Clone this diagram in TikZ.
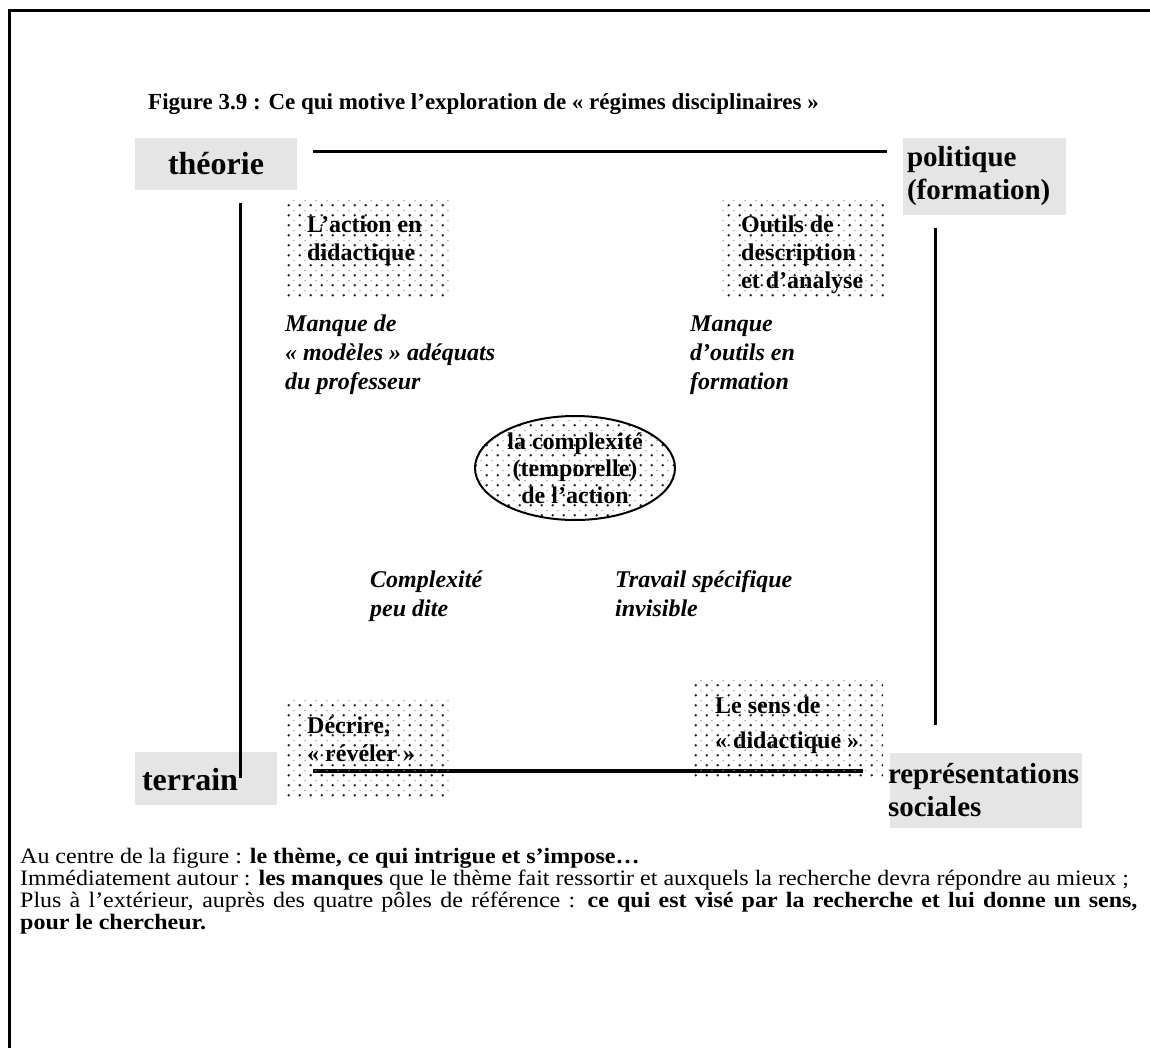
\documentclass[tikz,border=0pt]{standalone}
\usepackage{fontspec}
\setmainfont{Liberation Serif}
\usetikzlibrary{patterns.meta,shapes.geometric}

\tikzdeclarepattern{
  name=dotgrid,
  type=colored,
  bottom left={(0pt,0pt)},
  top right={(11pt,10pt)},
  tile size={(11pt,10pt)},
  code={
    \fill[black!85] (3pt,3pt) circle (1.4pt);
    \fill[black!40] (8pt,7.5pt) rectangle (9.4pt,8.5pt);
  }
}

\newcommand\myfs[2]{\fontsize{#1}{#2}\selectfont}
\newcommand\topline{\rule{0pt}{18pt}}
\newcommand\wide[1]{\scalebox{1.09}[1]{#1}}

\tikzset{
  pole/.style={fill=black!10, inner sep=0pt, font=\bfseries\myfs{29}{33}},
  dotbox/.style={pattern=dotgrid, inner sep=0pt, anchor=north west},
  boxtext/.style={anchor=north west, inner sep=0pt, align=left, font=\bfseries\myfs{24}{28}},
  lack/.style={anchor=north west, inner sep=0pt, align=left, font=\bfseries\itshape\myfs{24}{29}},
  axis/.style={line width=3pt},
  body/.style={anchor=base west, inner sep=0pt, font=\myfs{22}{22}}
}

\begin{document}
\begin{tikzpicture}[x=1pt,y=-1pt]
\useasboundingbox (0,0) rectangle (1150,1048);
\draw[line width=3pt] (9,1048) -- (9,11) -- (1150,11);

% title
\node[anchor=base west, inner sep=0pt, font=\bfseries\myfs{23}{27}] (title) at (148,110)
  {Figure 3.9 : Ce qui motive l’exploration de «~régimes disciplinaires~»};

% poles
\node[pole, font=\bfseries\myfs{32}{36}, minimum width=162pt, minimum height=52pt] (theorie) at (216,164) {théorie};
\node[pole, minimum width=163pt, minimum height=77pt, align=left, text width=155pt] (politique) at (984.5,176.5)
  {politique\\(formation)};
\node[pole, minimum width=142pt, minimum height=53pt] (terrainbg) at (206,778.5) {};
\node[pole, fill=none, font=\bfseries\myfs{32}{36}] (terrain) at (190,780) {terrain};
\node[pole, minimum width=192pt, minimum height=75pt, align=left, text width=190pt, inner xsep=0pt] (repr) at (986,790)
  {\hspace*{-3pt}représentations\\\hspace*{-3pt}sociales};

% axes
\coordinate (t1) at (313,152); \coordinate (t2) at (887,152);
\coordinate (l1) at (240,203); \coordinate (l2) at (240,778);
\coordinate (r1) at (935,228); \coordinate (r2) at (935,725);
\coordinate (b1) at (313,771); \coordinate (b2) at (863,771);
\draw[axis] (t1) -- (t2);
\draw[axis] (l1) -- (l2);
\draw[axis] (r1) -- (r2);
\draw[line width=4pt] (b1) -- (b2);

% dotted boxes
\node[dotbox, minimum width=163pt, minimum height=97pt] (tlbox) at (287,200) {};
\node[boxtext] (tltext) at (307,214) {\topline L’action en\\didactique};
\node[dotbox, minimum width=167pt, minimum height=97pt] (trbox) at (720,200) {};
\node[boxtext] (trtext) at (741,214) {\topline Outils de\\description\\et d’analyse};
\node[dotbox, minimum width=163pt, minimum height=97pt] (blbox) at (287,700) {};
\node[boxtext] (bltext) at (307,715) {\topline Décrire,\\«~révéler~»};
\node[dotbox, minimum width=190pt, minimum height=97pt] (brbox) at (693,680) {};
\node[boxtext, font=\bfseries\myfs{24}{35}] (brtext) at (715,695) {\topline Le sens de\\«~didactique~»};

% centre
\node[ellipse, draw, line width=2pt, pattern=dotgrid, minimum width=200pt, minimum height=104pt, inner sep=0pt] (ell) at (575,468) {};
\node[align=center, inner sep=0pt, font=\bfseries\myfs{24}{27}] (elltext) at (ell.center)
  {la complexité\\(temporelle)\\de l’action};

% lacks
\node[lack] (lack1) at (285,313) {\topline Manque de\\«~modèles~» adéquats\\du professeur};
\node[lack] (lack2) at (690,313) {\topline Manque\\d’outils en\\formation};
\node[lack] (lack3) at (370,569) {\topline Complexité\\peu dite};
\node[lack] (lack4) at (615,569) {\topline Travail spécifique\\invisible};

% caption text
\node[body] (c1) at (20,863) {\wide{Au centre de la figure : \textbf{le thème, ce qui intrigue et s’impose…}}};
\node[body] (c2) at (20,885) {\wide{Immédiatement autour : \textbf{les manques} que le thème fait ressortir et auxquels la recherche devra répondre au mieux ;}};
\node[body] (c3) at (20,907) {\wide{\hbox to 1025pt{Plus à l’extérieur, auprès des quatre pôles de référence : \textbf{ce qui est visé par la recherche et lui donne un sens,}}}};
\node[body] (c4) at (20,929) {\wide{\textbf{pour le chercheur.}}};
\end{tikzpicture}
\end{document}
